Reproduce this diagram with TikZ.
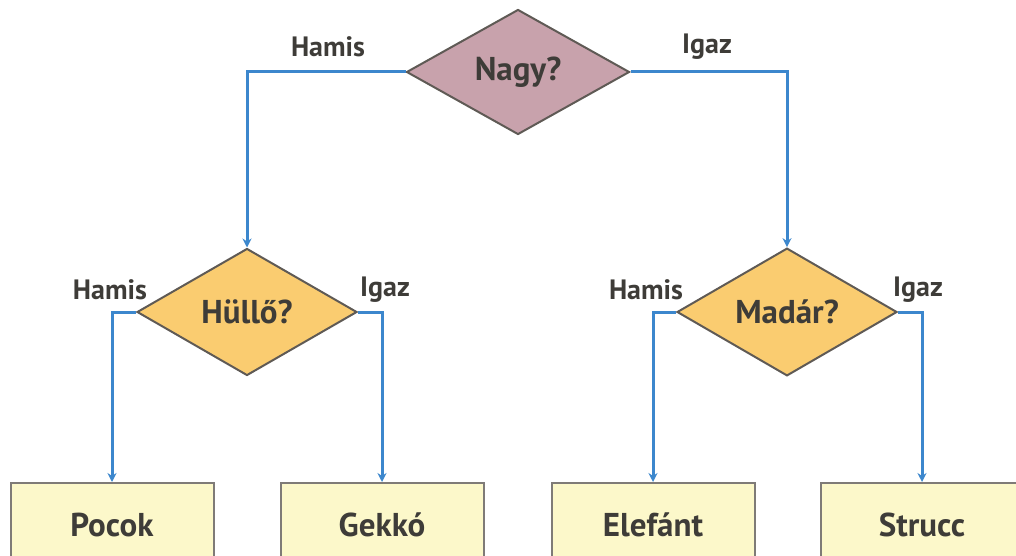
\documentclass[tikz,border=0pt]{standalone}
\usepackage{fontspec}
\setmainfont{PT Sans}
\usetikzlibrary{shapes.geometric,arrows.meta}
\definecolor{txt}{RGB}{62,60,56}
\definecolor{flow}{RGB}{60,135,205}
\definecolor{mauve}{RGB}{200,162,172}
\definecolor{gold}{RGB}{250,204,112}
\definecolor{cream}{RGB}{252,248,202}
\definecolor{edge}{RGB}{95,90,85}
\tikzset{
  dec/.style={diamond, draw=edge, line width=2pt, inner sep=0pt, text=txt, font=\fontsize{33}{36}\selectfont\bfseries},
  leaf/.style={rectangle, draw=edge!80, line width=2pt, fill=cream, minimum width=203pt, minimum height=84pt, inner sep=0pt, text=txt, font=\fontsize{33}{36}\selectfont\bfseries},
  lab/.style={text=txt, inner sep=0pt, font=\fontsize{28}{30}\selectfont\bfseries},
  conn/.style={draw=flow, line width=3pt, -{Stealth[length=9pt,width=9pt]}},
}
\begin{document}
\begin{tikzpicture}[x=1pt,y=-1pt]
\useasboundingbox (0,0) rectangle (1016,556);
\clip (0,0) rectangle (1016,556);
\node[dec, fill=mauve, minimum width=223pt, minimum height=125pt] (nagy) at (518,72) {Nagy?};
\node[dec, fill=gold, minimum width=220pt, minimum height=127pt] (hullo) at (247,312) {Hüllő?};
\node[dec, fill=gold, minimum width=220pt, minimum height=127pt] (madar) at (787,312) {Madár?};
\node[leaf] (pocok) at (112,525) {Pocok};
\node[leaf] (gekko) at (382,525) {Gekkó};
\node[leaf] (elefant) at (653,525) {Elefánt};
\node[leaf] (strucc) at (922,525) {Strucc};
\draw[conn] (nagy.west) -| (hullo.north);
\draw[conn] (nagy.east) -| (madar.north);
\draw[conn] (hullo.west) -| (pocok.north);
\draw[conn] (hullo.east) -| (gekko.north);
\draw[conn] (madar.west) -| (elefant.north);
\draw[conn] (madar.east) -| (strucc.north);
\node[lab] (l1) at (328,47) {Hamis};
\node[lab] (l2) at (707,47) {Igaz};
\node[lab] (l3) at (110,290) {Hamis};
\node[lab] (l4) at (385,290) {Igaz};
\node[lab] (l5) at (646,290) {Hamis};
\node[lab] (l6) at (918,290) {Igaz};
\end{tikzpicture}
\end{document}
